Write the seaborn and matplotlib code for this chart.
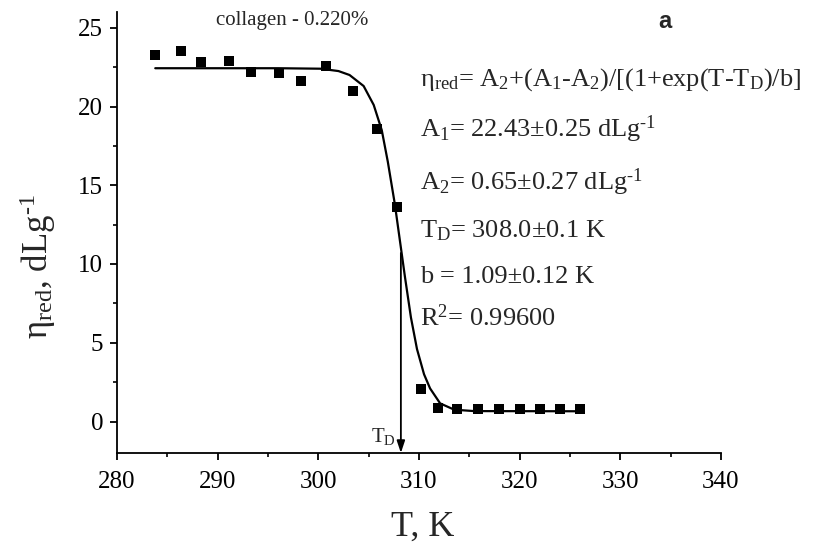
import matplotlib
matplotlib.use("Agg")
import matplotlib.pyplot as plt
import seaborn as sns
import pandas as pd
import numpy as np

# measured points
T_data = [283.8, 286.4, 288.3, 291.1, 293.3, 296.1, 298.3, 300.8, 303.4, 305.8,
          307.8, 310.2, 311.9, 313.8, 315.9, 317.9, 320.0, 322.0, 324.0, 326.0]
eta_data = [23.3, 23.5, 22.8, 22.9, 22.2, 22.1, 21.6, 22.6, 21.0, 18.6,
            13.6, 2.05, 0.85, 0.82, 0.82, 0.82, 0.82, 0.82, 0.82, 0.82]

# fitted curve
T_fit = [283.8, 296.0, 300.2, 302.0, 303.1, 304.5, 305.5, 306.3, 306.9, 307.6,
         308.1, 308.6, 309.2, 309.8, 310.5, 311.1, 312.1, 313.5, 315.5, 326.0]
eta_fit = [22.43, 22.43, 22.4, 22.25, 22.0, 21.3, 20.1, 18.5, 16.5, 13.8,
           11.5, 9.2, 6.6, 4.6, 3.0, 2.1, 1.15, 0.75, 0.66, 0.65]

x_ticks = [280, 290, 300, 310, 320, 330, 340]
y_ticks = [0, 5, 10, 15, 20, 25]
T_D = 308.2

sns.set_theme(style="ticks")
plt.rcParams["font.family"] = ["Liberation Serif", "DejaVu Serif"]
plt.rcParams["mathtext.fontset"] = "custom"
plt.rcParams["mathtext.rm"] = "Liberation Serif"
plt.rcParams["mathtext.it"] = "Liberation Serif:italic"
plt.rcParams["mathtext.default"] = "regular"

fig = plt.figure(figsize=(8.19, 5.5), dpi=100)
ax = fig.add_axes([117/819, 1 - 453/550, (721 - 117)/819, (453 - 12)/550])

df_fit = pd.DataFrame({"T": T_fit, "eta": eta_fit})
df_pts = pd.DataFrame({"T": T_data, "eta": eta_data})
sns.lineplot(data=df_fit, x="T", y="eta", ax=ax, color="black", lw=1.6, sort=False)
sns.scatterplot(data=df_pts, x="T", y="eta", ax=ax, marker="s", s=45,
                color="black", edgecolor="black", linewidth=0, zorder=3)

ax.set_xlim(280, 340)
ax.set_ylim(-2, 26)
ax.set_xticks(x_ticks)
ax.set_yticks(y_ticks)
ax.set_xticks(np.arange(285, 340, 10), minor=True)
ax.set_yticks(np.arange(2.5, 26, 5), minor=True)
ax.tick_params(axis="both", which="major", direction="out", length=5, width=1.3,
               labelsize=18, color="black", labelcolor="black", pad=5)
ax.tick_params(axis="x", which="major", pad=8)
ax.tick_params(axis="both", which="minor", direction="out", length=3, width=1.2,
               color="black")
for side in ["top", "right"]:
    ax.spines[side].set_visible(False)
for side in ["left", "bottom"]:
    ax.spines[side].set_linewidth(1.3)
    ax.spines[side].set_color("black")

ax.set_xlabel("T, K", fontsize=26)
ax.set_ylabel("η$_{red}$, dLg$^{\u2010 1}$", fontsize=25)
ax.xaxis.set_label_coords((423 - 117) / 604, -(511 - 453) / 441)
ax.yaxis.set_label_coords((58 - 117) / 604, (453 - 267) / 441)

# arrow marking T_D
ax.annotate("", xy=(T_D, -2), xytext=(T_D, 10.7),
            arrowprops=dict(arrowstyle="-|>,head_length=0.6,head_width=0.2",
                            color="black", lw=1.3, shrinkA=0, shrinkB=0))
ax.text(T_D - 0.5, -1.3, "T$_D$", fontsize=15, ha="right", va="baseline")

fig.text(292/819, 1 - 20/550, "collagen - 0.220%", fontsize=15,
         ha="center", va="center")
fig.text(665/819, 1 - 22/550, "a", fontsize=17, fontweight="bold",
         family="Liberation Sans", ha="center", va="center")

eqs = [
    (21.3, "η$_{red}$= A$_2$+(A$_1$-A$_2$)/[(1+exp(T-T$_D$)/b]"),
    (18.1, "A$_1$= 22.43±0.25 dLg$^{\u2010 1}$"),
    (14.7, "A$_2$= 0.65±0.27 dLg$^{\u2010 1}$"),
    (11.7, "T$_D$= 308.0±0.1 K"),
    (8.8, "b = 1.09±0.12 K"),
    (6.1, "R$^2$= 0.99600"),
]
for yv, s in eqs:
    ax.text(310.1, yv, s, fontsize=19, ha="left", va="baseline")

fig.savefig("out.png", dpi=100)
